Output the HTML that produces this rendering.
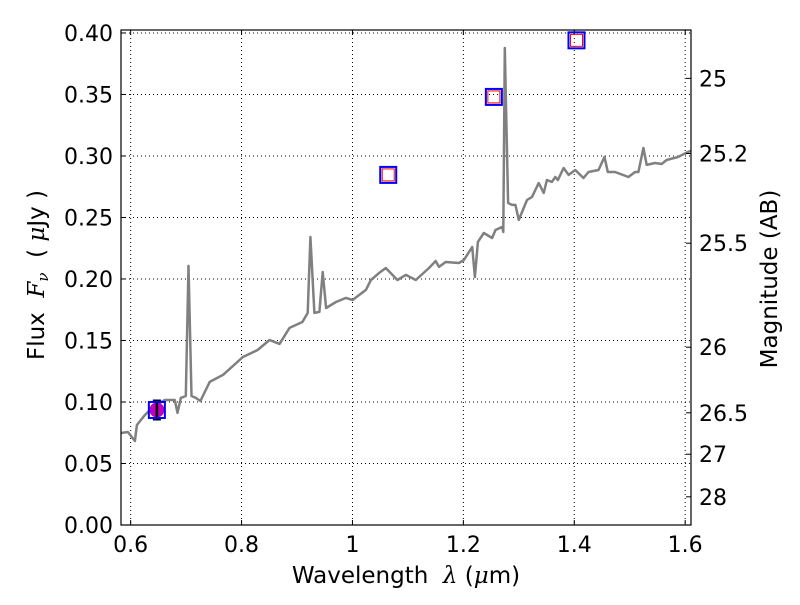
<!DOCTYPE html>
<html><head><meta charset="utf-8"><style>
html,body{margin:0;padding:0;background:#fff;}
svg text{font-family:"DejaVu Sans","Liberation Sans",sans-serif;fill:#000;}
</style></head><body>
<svg id="chart" width="800" height="600" xmlns="http://www.w3.org/2000/svg">
<rect width="800" height="600" fill="#fff"/>
<g id="grid"></g>
<g id="plot"></g>
<g id="axes"></g>
<text x="406" y="583" font-size="23" text-anchor="middle">Wavelength&#160;&#160;<tspan font-style="italic" font-family="DejaVu Serif">λ</tspan> (<tspan font-style="italic" font-family="DejaVu Serif">μ</tspan>m)</text>
<text transform="translate(44,275) rotate(-90)" font-size="23" text-anchor="middle">Flux&#160;&#160;<tspan font-style="italic" font-family="DejaVu Serif">F</tspan><tspan font-style="italic" font-family="DejaVu Serif" font-size="15" dy="4">ν</tspan><tspan dy="-4">&#160;&#160;( </tspan><tspan font-style="italic" font-family="DejaVu Serif">μ</tspan>Jy )</text>
<text transform="translate(777,279) rotate(-90)" font-size="23" text-anchor="middle">Magnitude (AB)</text>
</svg>
<script>
const wavelength=[0.5826,0.5951,0.6077,0.6113,0.6257,0.6347,0.6491,0.6617,0.6796,0.6845,0.6904,0.6994,0.7043,0.7097,0.7174,0.7258,0.7426,0.7665,0.8024,0.8289,0.8504,0.8684,0.8864,0.9098,0.9193,0.9241,0.9313,0.9403,0.9463,0.9524,0.9703,0.9883,1.0002,1.0243,1.0333,1.0482,1.0602,1.0811,1.0962,1.1142,1.1381,1.1501,1.1560,1.1681,1.1920,1.2010,1.2159,1.2208,1.2262,1.2369,1.2519,1.2580,1.2699,1.2720,1.2747,1.2806,1.2878,1.2939,1.2999,1.3148,1.3238,1.3358,1.3448,1.3507,1.3597,1.3658,1.3705,1.3808,1.3898,1.4018,1.4167,1.4257,1.4437,1.4545,1.4604,1.4737,1.4977,1.5097,1.5157,1.5246,1.5306,1.5456,1.5575,1.5665,1.5875,1.6055,1.6150];
const flux=[0.0748,0.0756,0.0683,0.0813,0.0894,0.0935,0.0984,0.1016,0.1016,0.0911,0.1033,0.1049,0.2106,0.1049,0.1033,0.1008,0.1163,0.1220,0.1366,0.1423,0.1504,0.1472,0.1602,0.1650,0.1724,0.2341,0.1724,0.1732,0.2057,0.1764,0.1813,0.1846,0.1829,0.1911,0.1992,0.2049,0.2089,0.1992,0.2033,0.1992,0.2089,0.2146,0.2098,0.2138,0.2130,0.2154,0.2260,0.2016,0.2301,0.2374,0.2333,0.2398,0.2423,0.2382,0.3878,0.2618,0.2602,0.2602,0.2480,0.2642,0.2667,0.2780,0.2699,0.2805,0.2789,0.2829,0.2805,0.2902,0.2846,0.2886,0.2821,0.2870,0.2886,0.2992,0.2870,0.2870,0.2829,0.2870,0.2870,0.3065,0.2927,0.2943,0.2935,0.2967,0.2992,0.3033,0.3050];
const photWavelength=[0.6473,1.0645,1.255,1.404];
const photFlux=[0.0935,0.2846,0.348,0.394];
const measWavelength=[0.6473];
const measFlux=[0.0935];
const measErr=[0.0075];
const xTicks=[0.6,0.8,1.0,1.2,1.4,1.6];
const xTickLabels=["0.6","0.8","1","1.2","1.4","1.6"];
const yTicks=[0,0.05,0.1,0.15,0.2,0.25,0.3,0.35,0.4];
const yTickLabels=["0.00","0.05","0.10","0.15","0.20","0.25","0.30","0.35","0.40"];
const magTicks=[25,25.2,25.5,26,26.5,27,28];
const magTickLabels=["25","25.2","25.5","26","26.5","27","28"];

const L=121,R=691,T=30,B=525;
const X0=0.5826,X1=1.6105,Y0=0,Y1=0.4024;
const sx=v=>L+(v-X0)/(X1-X0)*(R-L);
const sy=v=>B-(v-Y0)/(Y1-Y0)*(B-T);
const magToFlux=m=>Math.pow(10,(23.9-m)/2.5);
const NS="http://www.w3.org/2000/svg";
function mk(tag,parent,attrs){const e=document.createElementNS(NS,tag);for(const k in attrs)e.setAttribute(k,attrs[k]);parent.appendChild(e);return e;}
const grid=document.getElementById('grid'),plot=document.getElementById('plot'),axes=document.getElementById('axes'),svg=document.getElementById('chart');

const defs=mk('defs',svg,{});const cp=mk('clipPath',defs,{id:'clip'});mk('rect',cp,{x:L,y:T,width:R-L,height:B-T});
plot.setAttribute('clip-path','url(#clip)');

xTicks.forEach((t,i)=>{
  const x=sx(t);
  const g=mk('line',grid,{x1:x,x2:x,y1:T,y2:B,stroke:'#000','stroke-width':1,'stroke-dasharray':'1,3'});
  
  
  const tk=mk('path',axes,{d:`M${x},${B}v-5M${x},${T}v5`,stroke:'#000','stroke-width':1});
  
  
  const lb=mk('text',axes,{x:x,y:B+27,'font-size':22,'text-anchor':'middle'});lb.textContent=xTickLabels[i];
  
  
});
yTicks.forEach((t,i)=>{
  const y=sy(t);
  const g=mk('line',grid,{x1:L,x2:R,y1:y,y2:y,stroke:'#000','stroke-width':1,'stroke-dasharray':'1,3'});
  
  
  const tk=mk('path',axes,{d:`M${L},${y}h5`,stroke:'#000','stroke-width':1});
  
  
  const lb=mk('text',axes,{x:L-8,y:y+8,'font-size':22,'text-anchor':'end'});lb.textContent=yTickLabels[i];
  
  
});
magTicks.forEach((m,i)=>{
  const y=sy(magToFlux(m));
  const tk=mk('path',axes,{d:`M${R},${y}h-5`,stroke:'#000','stroke-width':1});
  
  
  const lb=mk('text',axes,{x:R+8,y:y+8,'font-size':22,'text-anchor':'start'});lb.textContent=magTickLabels[i];
  
  
});

const d=wavelength.map((w,i)=>(i?'L':'M')+sx(w).toFixed(1)+','+sy(flux[i]).toFixed(1)).join('');
const sp=mk('path',plot,{d:d,fill:'none',stroke:'#808080','stroke-width':2.5,'stroke-linejoin':'round'});



measWavelength.forEach((w,i)=>{
  const x=sx(w),y=sy(measFlux[i]);
  const c=mk('circle',plot,{cx:x,cy:y,r:7.5,fill:'#bf00bf'});
  
  
  const y1=sy(measFlux[i]+measErr[i]),y2=sy(measFlux[i]-measErr[i]);
  const e=mk('path',plot,{d:`M${x},${y1}V${y2}M${x-4},${y1}h8M${x-4},${y2}h8`,stroke:'#000','stroke-width':2.5});
  
  
});
photWavelength.forEach((w,i)=>{
  const x=sx(w),y=sy(photFlux[i]);
  const b=mk('rect',svg,{x:x-8,y:y-8,width:16,height:16,fill:'none',stroke:'#0000ff','stroke-width':2});
  
  
  if(i>0){
    const r=mk('rect',svg,{x:x-6,y:y-6,width:12,height:12,fill:'none',stroke:'#ff0000','stroke-width':1});
    
    
  }
});
const frame=mk('rect',axes,{x:L,y:T,width:R-L,height:B-T,fill:'none',stroke:'#000','stroke-width':1.2});


</script>
</body></html>
